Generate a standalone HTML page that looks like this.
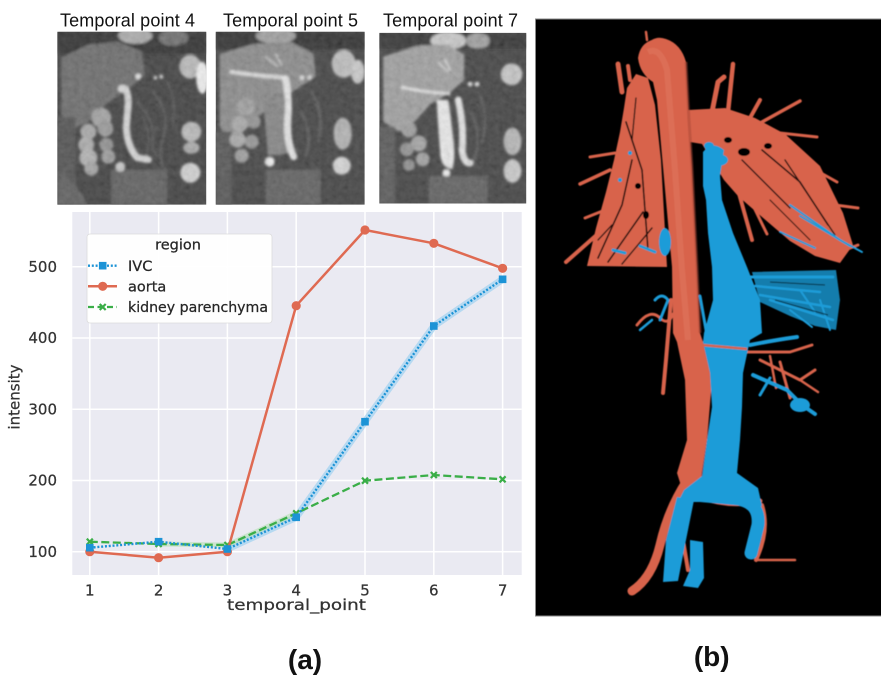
<!DOCTYPE html>
<html>
<head>
<meta charset="utf-8">
<style>
  html,body{margin:0;padding:0;background:#fff;}
  body{width:881px;height:697px;overflow:hidden;}
  svg{display:block;}
  .tk{font-family:"DejaVu Sans","Liberation Sans",sans-serif;font-size:15px;fill:#333;stroke:#333;stroke-width:0.25;}
  .lg{font-family:"DejaVu Sans","Liberation Sans",sans-serif;font-size:14.5px;fill:#262626;stroke:#262626;stroke-width:0.25;}
  .ttl{font-family:"Liberation Sans",Arial,sans-serif;font-size:18px;fill:#111;}
  .pl{font-family:"Liberation Sans",Arial,sans-serif;font-size:28px;font-weight:bold;fill:#111;}
</style>
</head>
<body>
<svg width="881" height="697" viewBox="0 0 881 697" xmlns="http://www.w3.org/2000/svg">
  <defs>
    <filter id="bl" x="-5%" y="-5%" width="110%" height="110%"><feGaussianBlur stdDeviation="1.3"/></filter>
    <filter id="bl2"><feGaussianBlur stdDeviation="0.6"/></filter>
    <filter id="noise" x="0" y="0" width="100%" height="100%">
      <feTurbulence type="fractalNoise" baseFrequency="0.18" numOctaves="2" seed="3"/>
      <feColorMatrix type="matrix" values="0.33 0.33 0.33 0 0  0.33 0.33 0.33 0 0  0.33 0.33 0.33 0 0  0 0 0 0 1"/>
    </filter>
    <clipPath id="c1"><rect x="0" y="0" width="149" height="173"/></clipPath>
  </defs>
  <rect width="881" height="697" fill="#fff"/>

  <!-- MRI titles -->
  <text class="ttl" x="60" y="26.5" textLength="135">Temporal point 4</text>
  <text class="ttl" x="223" y="26.5" textLength="135">Temporal point 5</text>
  <text class="ttl" x="383" y="26.5" textLength="135">Temporal point 7</text>

  <!-- MRI image 1 -->
  <svg x="57.3" y="31.7" width="149" height="173" viewBox="0 0 149 173">
    <g clip-path="url(#c1)">
    <rect width="149" height="173" fill="#333"/>
    <g filter="url(#bl)">
      <rect width="149" height="22" fill="#222"/>
      <ellipse cx="78" cy="4" rx="17" ry="8" fill="#a8a8a8"/>
      <ellipse cx="116" cy="6" rx="15" ry="8" fill="#666"/>
      <path d="M4,26 L31,13 L61,10 L84,20 L88,43 L68,60 L48,73 L31,90 L18,96 L4,83 Z" fill="#636363"/>
      <rect x="0" y="85" width="18" height="88" fill="#464646"/>
      <path d="M0,140 Q20,150 30,173 L0,173 Z" fill="#555"/>
      <path d="M95,60 Q115,80 105,110 Q100,130 110,140" stroke="#4a4a4a" stroke-width="3" fill="none"/>
      <path d="M80,70 Q100,90 95,120" stroke="#505050" stroke-width="2" fill="none"/>
      <path d="M110,50 Q120,70 115,95" stroke="#4c4c4c" stroke-width="2" fill="none"/>
      <path d="M85,85 Q95,100 88,130 M100,95 Q90,110 100,125" stroke="#4a4a4a" stroke-width="2" fill="none"/>
      <circle cx="44" cy="86" r="10" fill="#9e9e9e"/>
      <circle cx="31" cy="100" r="8" fill="#a6a6a6"/>
      <circle cx="48" cy="97" r="8" fill="#949494"/>
      <circle cx="29" cy="113" r="8" fill="#a8a8a8"/>
      <circle cx="31" cy="126" r="9" fill="#b0b0b0"/>
      <circle cx="49" cy="113" r="7" fill="#8c8c8c"/>
      <circle cx="51" cy="125" r="7" fill="#9a9a9a"/>
      <circle cx="34" cy="137" r="7" fill="#a0a0a0"/>
      <rect x="54" y="138" width="56" height="35" fill="#555"/>
      <circle cx="63" cy="135" r="5" fill="#c4c4c4"/>
      <path d="M64,57 Q70,54 71,70 L69,96 Q70,115 80,126 L91,128" stroke="#d6d6d6" stroke-width="7" fill="none" stroke-linecap="round"/>
      <circle cx="81" cy="45" r="3" fill="#e0e0e0"/>
      <circle cx="98" cy="46" r="2" fill="#cfcfcf"/>
      <circle cx="104" cy="45" r="2" fill="#cfcfcf"/>
      <ellipse cx="133" cy="35" rx="11" ry="12" fill="#b8b8b8"/>
      <ellipse cx="145" cy="46" rx="6" ry="16" fill="#f2f2f2"/>
      <ellipse cx="134" cy="100" rx="10" ry="10" fill="#b8b8b8"/>
      <ellipse cx="134" cy="116" rx="8" ry="6" fill="#a8a8a8"/>
      <ellipse cx="133" cy="141" rx="10" ry="10" fill="#d2d2d2"/>
    </g>
    <rect width="149" height="173" filter="url(#noise)" opacity="0.22"/>
    </g>
  </svg>

  <!-- MRI image 2 -->
  <svg x="215.7" y="31.7" width="149" height="173" viewBox="0 0 149 173">
    <g clip-path="url(#c1)">
    <rect width="149" height="173" fill="#353535"/>
    <g filter="url(#bl)">
      <rect width="149" height="18" fill="#242424"/>
      <ellipse cx="60" cy="4" rx="20" ry="8" fill="#9a9a9a"/>
      <path d="M4,22 L40,12 L75,10 L98,22 L100,45 L80,58 L62,70 L42,85 L28,100 L14,110 L4,95 Z" fill="#858585"/>
      <rect x="0" y="100" width="16" height="73" fill="#4c4c4c"/>
      <path d="M14,40 Q40,44 72,46" stroke="#dcdcdc" stroke-width="4" fill="none"/>
      <path d="M50,25 L62,35 M60,22 L66,34" stroke="#c0c0c0" stroke-width="2" fill="none"/>
      <path d="M47,62 L68,62 L72,122 L52,124 Z" fill="#7e7e7e"/>
      <path d="M70,48 Q74,70 72,90 Q71,110 78,125" stroke="#e6e6e6" stroke-width="7" fill="none" stroke-linecap="round"/>
      <circle cx="54" cy="130" r="5" fill="#f0f0f0"/>
      <circle cx="30" cy="75" r="9" fill="#9c9c9c"/>
      <circle cx="24" cy="92" r="8" fill="#a4a4a4"/>
      <circle cx="38" cy="90" r="7" fill="#8e8e8e"/>
      <circle cx="22" cy="108" r="8" fill="#a6a6a6"/>
      <circle cx="36" cy="110" r="7" fill="#929292"/>
      <circle cx="26" cy="124" r="7" fill="#9a9a9a"/>
      <rect x="50" y="138" width="55" height="35" fill="#575757"/>
      <path d="M95,60 Q110,80 102,110 M85,80 Q98,100 90,125" stroke="#4e4e4e" stroke-width="3" fill="none"/>
      <circle cx="86" cy="46" r="2.5" fill="#dadada"/>
      <circle cx="94" cy="46" r="2.5" fill="#dadada"/>
      <ellipse cx="128" cy="32" rx="12" ry="14" fill="#bcbcbc"/>
      <ellipse cx="142" cy="40" rx="7" ry="12" fill="#c8c8c8"/>
      <ellipse cx="127" cy="102" rx="9" ry="16" fill="#b0b0b0"/>
      <ellipse cx="126" cy="134" rx="9" ry="9" fill="#d6d6d6"/>
    </g>
    <rect width="149" height="173" filter="url(#noise)" opacity="0.22"/>
    </g>
  </svg>

  <!-- MRI image 3 -->
  <svg x="379.3" y="31.7" width="147" height="173" viewBox="0 0 149 173">
    <g clip-path="url(#c1)">
    <rect width="149" height="173" fill="#353535"/>
    <g filter="url(#bl)">
      <rect width="149" height="16" fill="#262626"/>
      <ellipse cx="70" cy="8" rx="18" ry="9" fill="#c8c8c8"/>
      <ellipse cx="100" cy="8" rx="12" ry="8" fill="#9a9a9a"/>
      <path d="M4,24 L40,13 L70,12 L86,22 L86,48 L70,62 L52,72 L36,90 L20,100 L4,90 Z" fill="#9c9c9c"/>
      <rect x="0" y="95" width="16" height="78" fill="#505050"/>
      <path d="M22,55 Q45,60 72,62" stroke="#e0e0e0" stroke-width="3" fill="none"/>
      <path d="M60,30 L70,40 M66,26 L72,38" stroke="#d0d0d0" stroke-width="2" fill="none"/>
      <path d="M58,68 Q60,100 62,125 Q64,138 74,138 Q78,125 74,100 Q72,80 70,68 Z" fill="#ececec"/>
      <path d="M80,68 Q86,95 84,120 Q86,132 92,132" stroke="#e4e4e4" stroke-width="7" fill="none" stroke-linecap="round"/>
      <circle cx="68" cy="142" r="4" fill="#f0f0f0"/>
      <circle cx="30" cy="98" r="8" fill="#9a9a9a"/>
      <circle cx="40" cy="112" r="8" fill="#a2a2a2"/>
      <circle cx="28" cy="118" r="7" fill="#8e8e8e"/>
      <circle cx="44" cy="128" r="7" fill="#9c9c9c"/>
      <circle cx="30" cy="134" r="6" fill="#8a8a8a"/>
      <rect x="50" y="145" width="60" height="28" fill="#575757"/>
      <path d="M100,60 Q112,80 104,112 M92,80 Q105,100 96,130" stroke="#4c4c4c" stroke-width="3" fill="none"/>
      <circle cx="92" cy="52" r="2.5" fill="#dadada"/>
      <circle cx="99" cy="52" r="2.5" fill="#dadada"/>
      <ellipse cx="134" cy="42" rx="11" ry="11" fill="#c4c4c4"/>
      <ellipse cx="135" cy="110" rx="9" ry="14" fill="#b4b4b4"/>
      <ellipse cx="135" cy="140" rx="9" ry="12" fill="#cacaca"/>
    </g>
    <rect width="149" height="173" filter="url(#noise)" opacity="0.22"/>
    </g>
  </svg>

  <!-- ===== Chart (a) ===== -->
  <rect x="72.3" y="212" width="449.4" height="363" fill="#eaeaf2"/>
  <g stroke="#fff" stroke-width="1.5">
    <line x1="89.8" y1="212" x2="89.8" y2="575"/>
    <line x1="158.6" y1="212" x2="158.6" y2="575"/>
    <line x1="227.4" y1="212" x2="227.4" y2="575"/>
    <line x1="296.2" y1="212" x2="296.2" y2="575"/>
    <line x1="365" y1="212" x2="365" y2="575"/>
    <line x1="433.8" y1="212" x2="433.8" y2="575"/>
    <line x1="502.6" y1="212" x2="502.6" y2="575"/>
    <line x1="72.3" y1="551.7" x2="521.7" y2="551.7"/>
    <line x1="72.3" y1="480.45" x2="521.7" y2="480.45"/>
    <line x1="72.3" y1="409.2" x2="521.7" y2="409.2"/>
    <line x1="72.3" y1="337.95" x2="521.7" y2="337.95"/>
    <line x1="72.3" y1="266.7" x2="521.7" y2="266.7"/>
  </g>

  <!-- y tick labels -->
  <g class="tk" text-anchor="end">
    <text x="57" y="557">100</text>
    <text x="57" y="485.7">200</text>
    <text x="57" y="414.5">300</text>
    <text x="57" y="343.2">400</text>
    <text x="57" y="272">500</text>
  </g>
  <!-- x tick labels -->
  <g class="tk" text-anchor="middle">
    <text x="89.8" y="595.5">1</text>
    <text x="158.6" y="595.5">2</text>
    <text x="227.4" y="595.5">3</text>
    <text x="296.2" y="595.5">4</text>
    <text x="365" y="595.5">5</text>
    <text x="433.8" y="595.5">6</text>
    <text x="502.6" y="595.5">7</text>
  </g>
  <text class="tk" font-size="16.5" x="227" y="610" textLength="139" lengthAdjust="spacingAndGlyphs">temporal_point</text>
  <text class="tk" font-size="14.5" transform="translate(19.5,397) rotate(-90)" text-anchor="middle">intensity</text>

  <!-- CI bands -->
  <polyline points="227.4,549 296.2,517.3 365,421.7 433.8,326 502.6,279.3" fill="none" stroke="#a9d5f0" stroke-width="7" stroke-linejoin="round" opacity="0.8"/>
  <polyline points="158.6,544 227.4,545 296.2,513.3" fill="none" stroke="#b5e0b5" stroke-width="5" opacity="0.6"/>

  <!-- kidney parenchyma -->
  <polyline points="89.8,541.7 158.6,544 227.4,545 296.2,513.3 365,480.7 433.8,475 502.6,479.3" fill="none" stroke="#3aae48" stroke-width="2.3" stroke-dasharray="8,3.5"/>
  <g stroke="#3aae48" stroke-width="2.2">
    <path d="M86.8,538.7 l6,6 m0,-6 l-6,6"/>
    <path d="M155.6,541 l6,6 m0,-6 l-6,6"/>
    <path d="M224.4,542 l6,6 m0,-6 l-6,6"/>
    <path d="M293.2,510.3 l6,6 m0,-6 l-6,6"/>
    <path d="M362,477.7 l6,6 m0,-6 l-6,6"/>
    <path d="M430.8,472 l6,6 m0,-6 l-6,6"/>
    <path d="M499.6,476.3 l6,6 m0,-6 l-6,6"/>
  </g>

  <!-- aorta -->
  <polyline points="89.8,551.7 158.6,557.7 227.4,551.7 296.2,305.7 365,230 433.8,243.3 502.6,268.3" fill="none" stroke="#df6a52" stroke-width="2.5" stroke-linejoin="round"/>
  <g fill="#df6a52">
    <circle cx="89.8" cy="551.7" r="4.6"/>
    <circle cx="158.6" cy="557.7" r="4.6"/>
    <circle cx="227.4" cy="551.7" r="4.6"/>
    <circle cx="296.2" cy="305.7" r="4.6"/>
    <circle cx="365" cy="230" r="4.6"/>
    <circle cx="433.8" cy="243.3" r="4.6"/>
    <circle cx="502.6" cy="268.3" r="4.6"/>
  </g>

  <!-- IVC -->
  <polyline points="89.8,547.7 158.6,541.7 227.4,549 296.2,517.3 365,421.7 433.8,326 502.6,279.3" fill="none" stroke="#1c93d6" stroke-width="2.4" stroke-dasharray="2,1.8"/>
  <g fill="#1c93d6">
    <rect x="86" y="543.9" width="7.6" height="7.6"/>
    <rect x="154.8" y="537.9" width="7.6" height="7.6"/>
    <rect x="223.6" y="545.2" width="7.6" height="7.6"/>
    <rect x="292.4" y="513.5" width="7.6" height="7.6"/>
    <rect x="361.2" y="417.9" width="7.6" height="7.6"/>
    <rect x="430" y="322.2" width="7.6" height="7.6"/>
    <rect x="498.8" y="275.5" width="7.6" height="7.6"/>
  </g>

  <!-- legend -->
  <rect x="87" y="234" width="185" height="89" rx="3" fill="#ffffff" fill-opacity="0.92" stroke="#dcdcdc" stroke-width="0.8"/>
  <text class="lg" x="178" y="249.5" font-size="15.5" text-anchor="middle">region</text>
  <line x1="88" y1="265.7" x2="117" y2="265.7" stroke="#1c93d6" stroke-width="2.4" stroke-dasharray="2,1.8"/>
  <rect x="98.9" y="261.9" width="7.6" height="7.6" fill="#1c93d6"/>
  <text class="lg" x="128" y="270.9">IVC</text>
  <line x1="88" y1="286.3" x2="117" y2="286.3" stroke="#df6a52" stroke-width="2.5"/>
  <circle cx="102.7" cy="286.3" r="4.6" fill="#df6a52"/>
  <text class="lg" x="128" y="291.5">aorta</text>
  <line x1="88" y1="307" x2="117" y2="307" stroke="#3aae48" stroke-width="2.3" stroke-dasharray="6,3.5"/>
  <path d="M99.7,304 l6,6 m0,-6 l-6,6" stroke="#3aae48" stroke-width="2.2"/>
  <text class="lg" x="128" y="312.2" textLength="140" lengthAdjust="spacingAndGlyphs">kidney parenchyma</text>

  <!-- (a) label -->
  <text class="pl" x="305" y="669" text-anchor="middle">(a)</text>

  <!-- ===== Panel (b) ===== -->
  <rect x="535" y="19" width="346" height="597" fill="#000"/>
  <line x1="535" y1="19" x2="881" y2="19" stroke="#8a8a8a" stroke-width="1"/>
  <line x1="535.5" y1="19" x2="535.5" y2="616" stroke="#8a8a8a" stroke-width="1"/>
  <line x1="535" y1="616" x2="881" y2="616" stroke="#8a8a8a" stroke-width="1"/>

  <g filter="url(#bl2)">
  <!-- RED structures -->
  <g fill="#d8644c" stroke="#d8644c" stroke-linecap="round" stroke-linejoin="round">
    <path stroke="none" d="M587,266 L596,228 L606,192 L614,160 L620,132 L624,108 L627,88 L636,74 L648,78 L655,105 L661,160 L667,267 Z"/>
    <path fill="none" stroke-width="4" d="M600,232 L566,262"/>
    <path fill="none" stroke-width="3.5" d="M610,170 L580,184"/>
    <path fill="none" stroke-width="3" d="M615,153 L590,157"/>
    <path fill="none" stroke-width="5" d="M622,92 L618,64"/>
    <path fill="none" stroke-width="4" d="M630,80 L628,66"/>
    <path fill="none" stroke-width="2.5" d="M647,40 L646,32"/>
    <path fill="none" stroke-width="3" d="M605,210 L585,218"/>
    <path stroke="none" d="M688,110 L725,108 L755,118 L785,134 L820,166 L843,213 L853,245 L840,263 L815,256 L790,241 L762,217 L738,196 L724,180 L713,162 L702,144 L690,142 Z"/>
    <path fill="none" stroke-width="5" d="M712,112 L718,82 L724,77"/>
    <path fill="none" stroke-width="4.5" d="M728,112 L733,64"/>
    <path fill="none" stroke-width="4" d="M750,118 L760,100"/>
    <path fill="none" stroke-width="3.5" d="M762,122 L800,101"/>
    <path fill="none" stroke-width="3" d="M780,133 L817,137"/>
    <path fill="none" stroke-width="3" d="M812,168 L837,182"/>
    <path fill="none" stroke-width="3" d="M835,205 L858,208"/>
    <path fill="none" stroke-width="4" d="M733,172 L752,240"/>
    <path fill="none" stroke-width="3" d="M748,195 L767,234"/>
    <path fill="none" stroke-width="3" d="M845,250 L858,245"/>
    <path fill="none" stroke-width="3" d="M742,352 L790,352 L812,345"/>
    <path fill="none" stroke-width="3" d="M760,360 L800,380 L815,370"/>
    <path fill="none" stroke-width="3" d="M780,362 L790,398"/>
    <path fill="none" stroke-width="2.5" d="M770,356 L776,388"/>
    <path fill="none" stroke-width="2.5" d="M800,380 L818,392"/>
    <path fill="none" stroke-width="4" d="M671,300 L666,360 L663,393"/>
    <path fill="none" stroke-width="3" d="M637,325 Q650,308 660,318 Q668,326 673,314"/>
    <path stroke="none" d="M651.7,40 Q658,36 666,39 Q681,44 686,62 L689,120 L692,167 L697,267 L700,333 L703,342 L712,380 L707,440 L702,473 L700,492 L683,492 L677,473 L687,440 L685,380 L677,342 L673,333 L672,267 L663,167 L657,100 L653,82 Q640,74 638,58 Q640,44 651.7,40 Z"/>
    <path fill="none" stroke-width="9" d="M686,482 Q668,510 660,545 Q652,578 632,591"/>
    <path fill="none" stroke-width="4" d="M683,540 L688,570"/>
    <path fill="none" stroke-width="5" d="M700,497 Q730,508 760,501"/>
    <path fill="none" stroke-width="4" d="M762,505 Q770,530 756,560"/>
    <path fill="none" stroke-width="2.5" d="M756,560 L795,560"/>
  </g>
  <path d="M648,52 Q660,46 667,70 L675,170 L682,270 L688,340" fill="none" stroke="#e4806a" stroke-width="6" opacity="0.35"/>
  <path d="M686,62 L689,120 L692,167 L697,267 L700,333" fill="none" stroke="#a84535" stroke-width="3" opacity="0.5"/>
  <g stroke="#000" fill="none" opacity="0.85" stroke-linecap="round">
    <path stroke-width="1.6" d="M598,258 L622,205 L632,160"/>
    <path stroke-width="1.6" d="M608,262 L643,212"/>
    <path stroke-width="1.4" d="M622,264 L652,228"/>
    <path stroke-width="1.6" d="M626,122 L642,170 L648,250"/>
    <path stroke-width="1.3" d="M612,225 L598,240"/>
    <path stroke-width="1.3" d="M636,98 L632,140"/>
    <path stroke-width="1.6" d="M762,150 L800,182 L828,225"/>
    <path stroke-width="1.4" d="M742,160 L790,208"/>
    <path stroke-width="1.4" d="M785,160 L835,235"/>
    <path stroke-width="1.2" d="M770,200 L810,240"/>
  </g>
  <g fill="#000">
    <ellipse cx="646" cy="215" rx="3" ry="4"/>
    <ellipse cx="638" cy="186" rx="3" ry="3"/>
    <ellipse cx="744" cy="152" rx="6" ry="4"/>
    <ellipse cx="768" cy="146" rx="4" ry="3"/>
    <ellipse cx="728" cy="140" rx="4" ry="3"/>
  </g>

  <!-- BLUE structures -->
  <g fill="#1d9cd8" stroke="#1d9cd8" stroke-linecap="round" stroke-linejoin="round">
    <path stroke="none" d="M703,152 Q712,140 724,150 L720,176 L722,200 L733,233 L747,267 L760,300 L762,333 L750,340 L743,373 L742,407 L740,440 L737,473 L758,488 L762,506 L744,506 L700,502 L678,502 L684,490 L702,476 L707,440 L712,407 L710,373 L703,342 L704,333 L713,300 L712,267 L708,233 L706,200 L703,186 Z"/>
    <ellipse cx="718" cy="160" rx="10" ry="6" stroke="none"/>
    <ellipse cx="709" cy="146" rx="5" ry="4" stroke="none"/>
    <path stroke="none" d="M677,497 L694,500 L686,540 L678,581 L663,582 L666,540 Z"/>
    <path stroke="none" d="M690,540 L703,542 L704,578 L698,588 L683,586 L690,570 Z"/>
    <path fill="none" stroke-width="13" d="M742,500 Q760,505 758,525 L751,553"/>
    <path stroke="none" opacity="0.8" d="M752,272 L836,270 L840,300 L836,330 L815,326 L790,316 L760,302 Z"/>
    <path fill="none" stroke-width="3" d="M750,277 L833,277"/>
    <path fill="none" stroke-width="2.5" d="M755,286 L820,292"/>
    <path fill="none" stroke-width="2.5" d="M760,295 L830,307"/>
    <path fill="none" stroke-width="2.5" d="M770,300 L833,320"/>
    <path fill="none" stroke-width="2" d="M800,290 L815,312"/>
    <path fill="none" stroke-width="2" d="M820,300 L830,330"/>
    <path fill="none" stroke-width="2" d="M790,310 L812,327"/>
    <path fill="none" stroke-width="4" d="M750,345 Q775,340 797,337"/>
    <path fill="none" stroke-width="4" d="M753,375 L787,390 L802,405 L815,414"/>
    <ellipse cx="800" cy="405" rx="10" ry="7" stroke="none"/>
    <path fill="none" stroke-width="3" d="M770,378 L760,395"/>
    <path fill="none" stroke-width="2" d="M790,205 L840,240 L862,252"/>
    <path fill="none" stroke-width="2" d="M800,216 L850,246"/>
    <path fill="none" stroke-width="2" d="M780,232 L815,248"/>
    <ellipse cx="665" cy="242" rx="6" ry="14" stroke="none"/>
    <path fill="none" stroke-width="3" d="M613,250 L625,253"/>
    <path fill="none" stroke-width="3" d="M640,246 L655,252"/>
    <path fill="none" stroke-width="3" d="M655,300 Q662,292 668,300 L660,320"/>
    <path fill="none" stroke-width="3" d="M700,296 L706,330"/>
    <path fill="none" stroke-width="2.5" d="M640,330 L652,320"/>
    <circle cx="630" cy="153" r="2" stroke="none"/>
    <circle cx="620" cy="180" r="2" stroke="none"/>
  </g>
  <g stroke="#000" fill="none" opacity="0.55">
    <path stroke-width="1.2" d="M770,282 L825,285"/>
    <path stroke-width="1.2" d="M775,300 L828,315"/>
  </g>
  <path d="M680,343 L747,349" stroke="#d8644c" stroke-width="2.5" fill="none"/>
  </g>

  <!-- (b) label -->
  <text class="pl" x="711.7" y="665.8" text-anchor="middle">(b)</text>
</svg>
</body>
</html>
